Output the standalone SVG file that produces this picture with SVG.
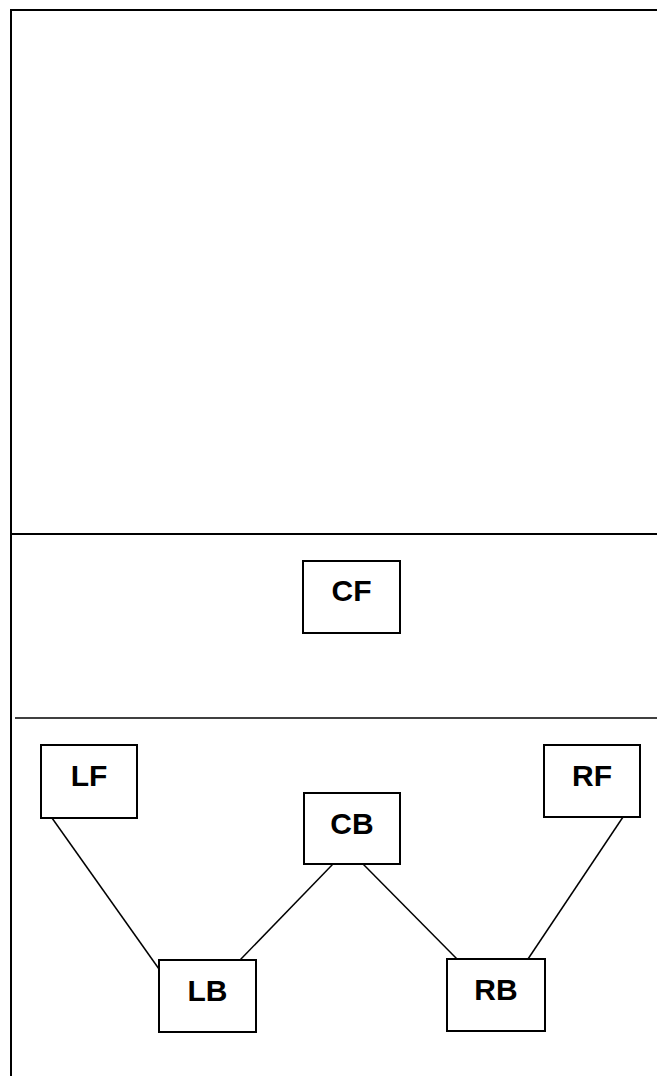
<svg xmlns="http://www.w3.org/2000/svg" width="657" height="1076" viewBox="0 0 657 1076">
<style>
.frame{stroke:#000;stroke-width:2;fill:none}
.box{fill:#fff;stroke:#000;stroke-width:2}
.lbl{font-family:"Liberation Sans",Arial,sans-serif;font-weight:bold;font-size:30px;text-anchor:middle;fill:#000}
.conn{stroke:#000;stroke-width:1.5;fill:none}
</style>
<rect width="657" height="1076" fill="#fff"/>
<g id="frame">
<path class="frame" d="M11,1076 V10 H657"/>
<line class="frame" x1="11" y1="534" x2="657" y2="534"/>
<line x1="15" y1="718" x2="657" y2="718" stroke="#000" stroke-width="1.5"/>
</g>
<g id="connectors">
<line class="conn" x1="52" y1="818" x2="159" y2="969"/>
<line class="conn" x1="333" y1="864" x2="240" y2="960"/>
<line class="conn" x1="363" y1="864" x2="457" y2="959"/>
<line class="conn" x1="623" y1="817" x2="528" y2="959"/>
</g>
<g id="CF"><rect class="box" x="303" y="561" width="97" height="72"/><text class="lbl" x="351.5" y="601">CF</text></g>
<g id="LF"><rect class="box" x="41" y="745" width="96" height="73"/><text class="lbl" x="89" y="786">LF</text></g>
<g id="CB"><rect class="box" x="304" y="793" width="96" height="71"/><text class="lbl" x="352" y="834">CB</text></g>
<g id="RF"><rect class="box" x="544" y="745" width="96" height="72"/><text class="lbl" x="592" y="786">RF</text></g>
<g id="LB"><rect class="box" x="159" y="960" width="97" height="72"/><text class="lbl" x="207.5" y="1001">LB</text></g>
<g id="RB"><rect class="box" x="447" y="959" width="98" height="72"/><text class="lbl" x="496" y="1000">RB</text></g>
</svg>
